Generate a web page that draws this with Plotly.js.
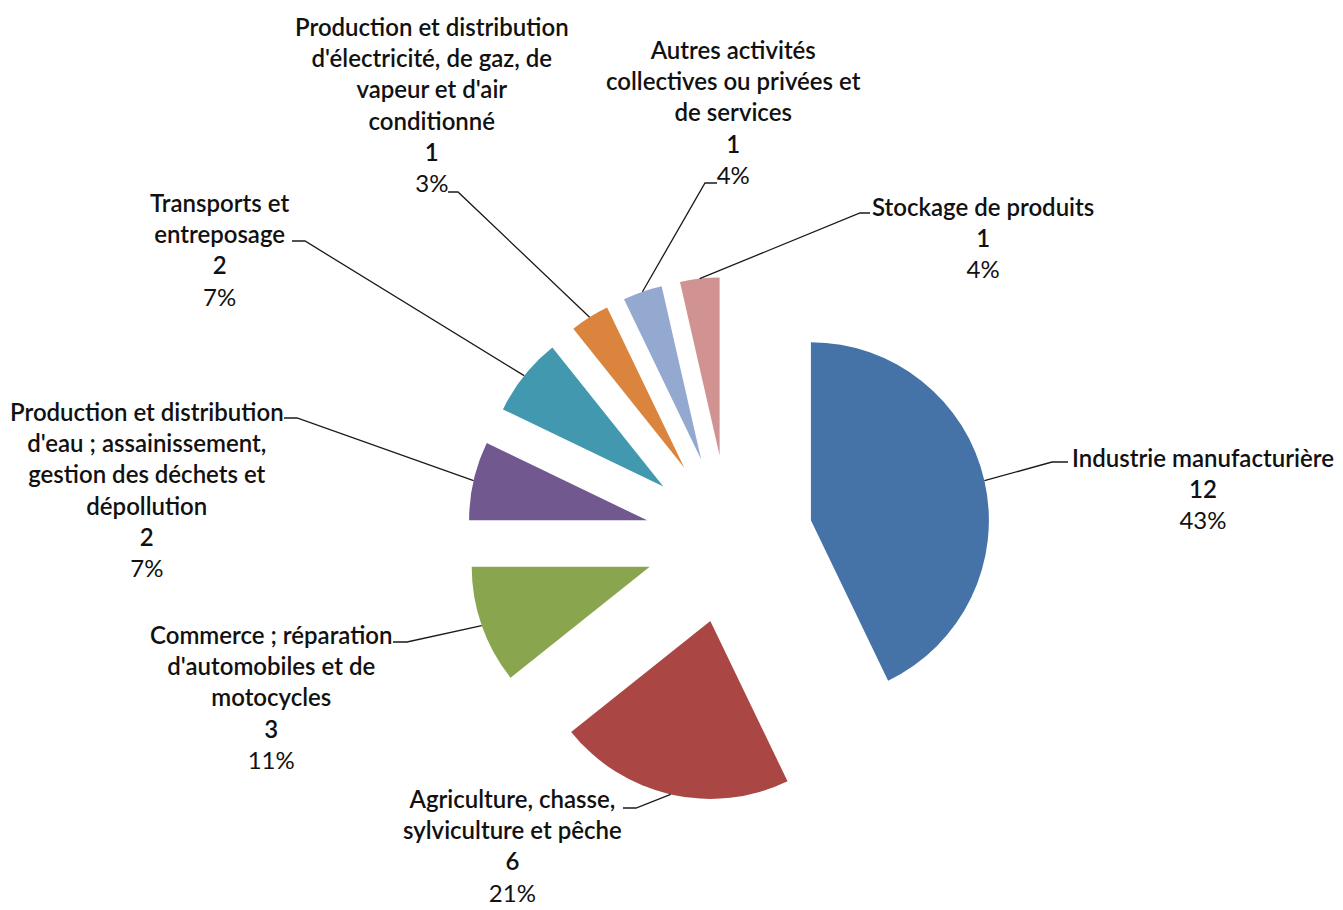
<!DOCTYPE html>
<html>
<head>
<meta charset="utf-8">
<script src="https://cdn.plot.ly/plotly-3.0.1.min.js"></script>
<style>
  html, body { margin: 0; padding: 0; background: #ffffff; }
  #chart { width: 1343px; height: 910px; }
</style>
</head>
<body>
<div id="chart"></div>
<script>
// Établissements par secteur d'activité
const sectors = [
  "Industrie manufacturière",
  "Agriculture, chasse, sylviculture et pêche",
  "Commerce ; réparation d'automobiles et de motocycles",
  "Production et distribution d'eau ; assainissement, gestion des déchets et dépollution",
  "Transports et entreposage",
  "Production et distribution d'électricité, de gaz, de vapeur et d'air conditionné",
  "Autres activités collectives ou privées et de services",
  "Stockage de produits"
];
const counts = [12, 6, 3, 2, 2, 1, 1, 1];
const shares = ["43%", "21%", "11%", "7%", "7%", "3%", "4%", "4%"];

// wrapped label lines, as printed next to each slice
const labelLines = [
  ["Industrie manufacturière"],
  ["Agriculture, chasse,", "sylviculture et pêche"],
  ["Commerce ; réparation", "d'automobiles et de", "motocycles"],
  ["Production et distribution", "d'eau ; assainissement,", "gestion des déchets et", "dépollution"],
  ["Transports et", "entreposage"],
  ["Production et distribution", "d'électricité, de gaz, de", "vapeur et d'air", "conditionné"],
  ["Autres activités", "collectives ou privées et", "de services"],
  ["Stockage de produits"]
];

const colors = ["#4572A7", "#AA4643", "#89A54E", "#71588F", "#4198AF", "#DB843D", "#93A9CF", "#D19392"];

// page geometry (pixels)
const W = 1343, H = 910;
const PIE_BOX = { x0: 467, x1: 991, y0: 277, y1: 801 };
const PULL = 0.472;

// label block centres (pixels) and leader-line elbows: [elbowX, elbowY, endX]
const labelPos = [
  [1203, 488], [512, 845], [271, 697], [147, 489],
  [219, 249], [432, 104], [733, 112], [983, 238]
];
const leaderElbow = [
  [1052, 462, 1068], [636, 808, 623], [407, 642, 393], [297, 418, 284],
  [305, 241, 292], [458, 192, 448], [705, 183, 717], [860, 213, 870]
];

const px2x = p => p / W;
const px2y = p => 1 - p / H;

const FONT = "Lato, 'Open Sans', 'Liberation Sans', sans-serif";

const annotations = labelLines.map((lines, i) => {
  const strong = lines.concat([String(counts[i])])
    .map(s => '<span style="font-weight:600">' + s + '</span>');
  return {
    xref: "paper", yref: "paper",
    x: px2x(labelPos[i][0]), y: px2y(labelPos[i][1]),
    xanchor: "center", yanchor: "middle", align: "center",
    showarrow: false,
    text: strong.concat([shares[i]]).join("<br>"),
    font: { family: FONT, size: 24, color: "#111111" }
  };
});

const data = [{
  type: "pie",
  labels: sectors,
  values: counts,
  sort: false,
  direction: "clockwise",
  rotation: 0,
  pull: counts.map(() => PULL),
  marker: { colors: colors, line: { width: 0 } },
  textinfo: "none",
  hoverinfo: "label+value+percent",
  domain: {
    x: [px2x(PIE_BOX.x0), px2x(PIE_BOX.x1)],
    y: [px2y(PIE_BOX.y1), px2y(PIE_BOX.y0)]
  },
  showlegend: false
}];

const layout = {
  width: W, height: H,
  margin: { l: 0, r: 0, t: 0, b: 0 },
  paper_bgcolor: "#ffffff",
  showlegend: false,
  annotations: annotations
};

const gd = document.getElementById("chart");
Plotly.newPlot(gd, data, layout, { displayModeBar: false, staticPlot: true }).then(() => {
  // leader lines run from the middle of each pulled slice's outer arc to its label
  const cd = gd.calcdata && gd.calcdata[0];
  const total = counts.reduce((a, b) => a + b, 0);
  let acc = 0;
  const shapes = counts.map((v, i) => {
    let sx, sy;
    const pt = cd && cd[i];
    if (pt && pt.pxmid && cd[0].cx != null) {
      const k = 1 + PULL;
      sx = cd[0].cx + pt.pxmid[0] * k;
      sy = cd[0].cy + pt.pxmid[1] * k;
    } else {
      const cx = (PIE_BOX.x0 + PIE_BOX.x1) / 2, cy = (PIE_BOX.y0 + PIE_BOX.y1) / 2;
      const r = (PIE_BOX.x1 - PIE_BOX.x0) / (2 + 2 * PULL);
      const mid = 2 * Math.PI * (acc + v / 2) / total;
      sx = cx + r * (1 + PULL) * Math.sin(mid);
      sy = cy - r * (1 + PULL) * Math.cos(mid);
    }
    acc += v;
    const e = leaderElbow[i];
    return {
      type: "path", xref: "paper", yref: "paper",
      path: "M" + px2x(sx) + "," + px2y(sy) +
            " L" + px2x(e[0]) + "," + px2y(e[1]) +
            " L" + px2x(e[2]) + "," + px2y(e[1]),
      line: { color: "#1a1a1a", width: 1.3 }
    };
  });
  return Plotly.relayout(gd, { shapes: shapes });
});
</script>
</body>
</html>
